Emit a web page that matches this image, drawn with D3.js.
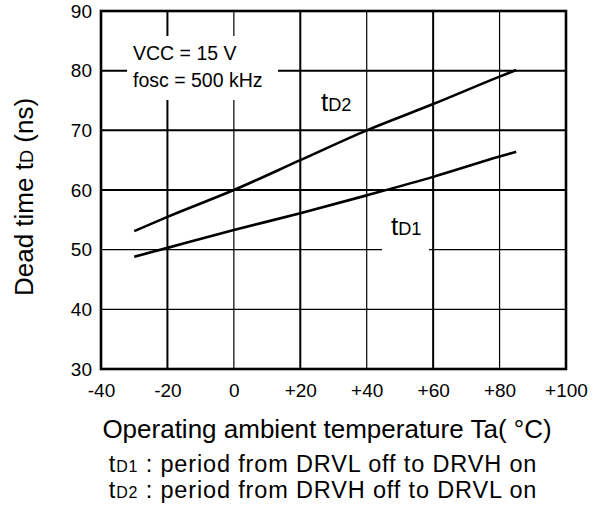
<!DOCTYPE html>
<html><head><meta charset="utf-8">
<script src="https://cdn.jsdelivr.net/npm/d3@7"></script>
<style>body{margin:0;background:#fff}svg{display:block;font-family:"Liberation Sans",Arial,sans-serif}</style>
</head><body><svg id="c" width="594" height="506"></svg>
<script>
const temps = [-30, -20, 0, 20, 40, 60, 80, 85];
const tD1 = [48.8, 50.3, 53.3, 56.1, 59.1, 62.2, 65.6, 66.4];
const tD2 = [53.1, 55.5, 60.0, 65.0, 70.0, 74.4, 79.0, 80.1];
const xTicks = [-40, -20, 0, 20, 40, 60, 80, 100];
const yTicks = [30, 40, 50, 60, 70, 80, 90];

const svg = d3.select("#c");
const x = d3.scaleLinear().domain([-40, 100]).range([101, 566]);
const y = d3.scaleLinear().domain([30, 90]).range([369, 11]);

const thickX = new Set([-20, 20, 60]);
const thickY = new Set([60, 70, 80]);
const g = svg.append("g");
g.selectAll("line.vx").data(xTicks.slice(1, -1)).join("line")
  .attr("x1", d => x(d)).attr("x2", d => x(d)).attr("y1", y(30)).attr("y2", y(90))
  .attr("stroke", "#000").attr("stroke-width", d => thickX.has(d) ? 2 : 1.2);
g.selectAll("line.hy").data(yTicks.slice(1, -1)).join("line")
  .attr("y1", d => y(d)).attr("y2", d => y(d)).attr("x1", x(-40)).attr("x2", x(100))
  .attr("stroke", "#000").attr("stroke-width", d => thickY.has(d) ? 2 : 1.3);

// white label boxes
svg.append("rect").attr("x", 127).attr("y", 36).attr("width", 151).attr("height", 64).attr("fill", "#fff");
svg.append("rect").attr("x", 382).attr("y", 212).attr("width", 47).attr("height", 44).attr("fill", "#fff");

// data lines
const line = d3.line().x((d, i) => x(temps[i])).y(d => y(d)).curve(d3.curveMonotoneX);
[tD1, tD2].forEach(s => svg.append("path").attr("d", line(s)).attr("fill", "none")
  .attr("stroke", "#000").attr("stroke-width", 2.6));

// frame
svg.append("rect").attr("x", x(-40)).attr("y", y(90)).attr("width", x(100) - x(-40)).attr("height", y(30) - y(90))
  .attr("fill", "none").attr("stroke", "#000").attr("stroke-width", 2.6);

// axes (labels only)
const yAxis = svg.append("g").attr("transform", `translate(${x(-40) - 9},0)`)
  .call(d3.axisLeft(y).tickValues(yTicks).tickSize(0).tickPadding(0).tickFormat(d => d));
const xAxis = svg.append("g").attr("transform", `translate(0,${y(30) + 9})`)
  .call(d3.axisBottom(x).tickValues(xTicks).tickSize(0).tickPadding(6).tickFormat(d => d > 0 ? "+" + d : String(d)));
[yAxis, xAxis].forEach(a => {
  a.select(".domain").remove();
  a.selectAll("text").attr("font-size", 19).attr("fill", "#000").attr("font-family", "Liberation Sans, Arial, sans-serif");
});

// annotations
svg.append("text").attr("x", 133).attr("y", 60).attr("font-size", 19.5).text("VCC = 15 V");
svg.append("text").attr("x", 133).attr("y", 87).attr("font-size", 19.5).text("fosc = 500 kHz");

function sub(sel, main, s) {
  sel.append("tspan").text(main);
  sel.append("tspan").attr("font-size", "0.7em").text(s);
}
sub(svg.append("text").attr("x", 321).attr("y", 111).attr("font-size", 26), "t", "D2");
sub(svg.append("text").attr("x", 391).attr("y", 235).attr("font-size", 26), "t", "D1");

// axis titles
svg.append("text").attr("x", 327).attr("y", 438).attr("text-anchor", "middle").attr("font-size", 26)
  .text("Operating ambient temperature Ta( °C)");
const yl = svg.append("text").attr("transform", "translate(33,197) rotate(-90)").attr("text-anchor", "middle").attr("font-size", 26);
yl.append("tspan").text("Dead time t");
yl.append("tspan").attr("font-size", "0.7em").text("D");
yl.append("tspan").text(" (ns)");

// footnotes
const f1 = svg.append("text").attr("x", 323).attr("y", 472).attr("text-anchor", "middle").attr("font-size", 23.5).attr("letter-spacing", 0.85);
f1.append("tspan").text("t"); f1.append("tspan").attr("font-size", "0.68em").text("D1");
f1.append("tspan").text(" : period from DRVL off to DRVH on");
const f2 = svg.append("text").attr("x", 323).attr("y", 498).attr("text-anchor", "middle").attr("font-size", 23.5).attr("letter-spacing", 0.85);
f2.append("tspan").text("t"); f2.append("tspan").attr("font-size", "0.68em").text("D2");
f2.append("tspan").text(" : period from DRVH off to DRVL on");
</script></body></html>
